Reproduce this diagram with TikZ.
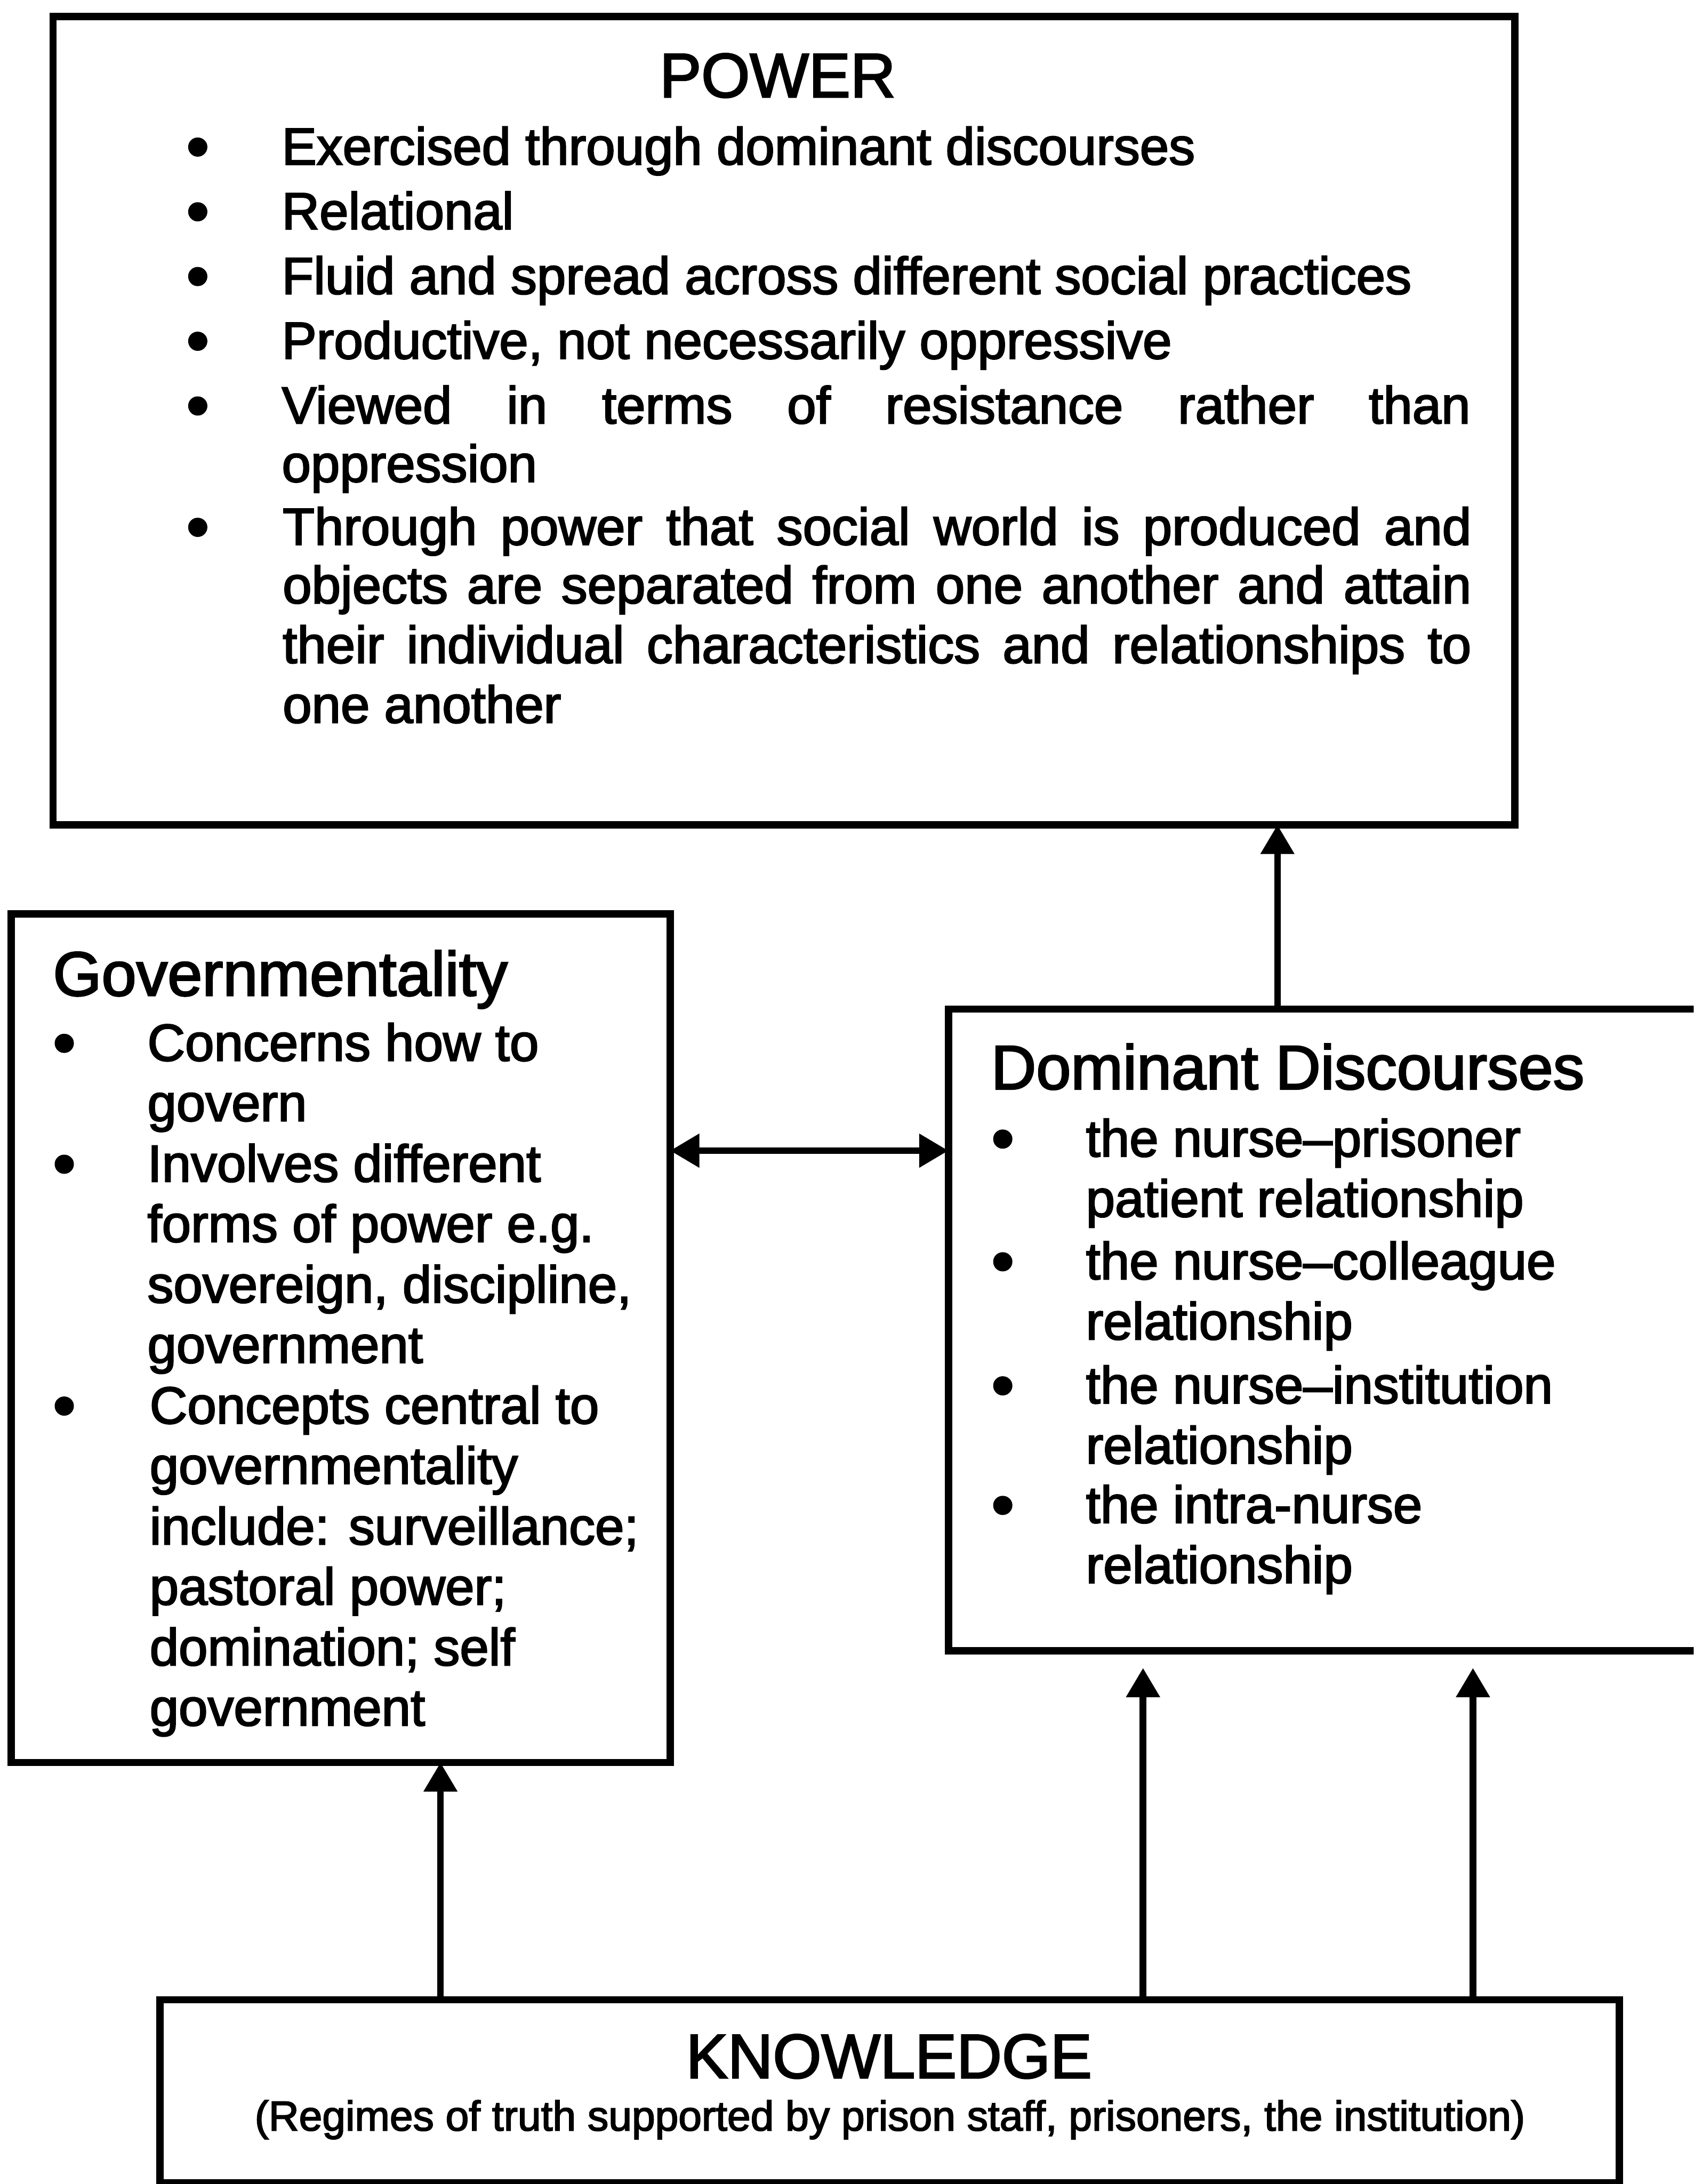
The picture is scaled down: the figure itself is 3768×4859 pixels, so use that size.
\documentclass[tikz,border=0pt]{standalone}
\usepackage{fontspec}
\setmainfont{Liberation Sans}[FakeBold=2.5]
\usetikzlibrary{arrows.meta}

\tikzset{
  box/.style={draw=black, line width=4.6pt, rectangle, inner sep=0pt, outer sep=0pt, anchor=north west},
  txt/.style={inner sep=0pt, outer sep=0pt, anchor=base west, font=\fontsize{33pt}{37pt}\selectfont},
  bul/.style={inner sep=0pt, outer sep=0pt, anchor=base, yshift=-0.09cm, font=\fontsize{41pt}{45pt}\selectfont},
  headtxt/.style={inner sep=0pt, outer sep=0pt, anchor=base west, font=\fontsize{39.5pt}{44pt}\selectfont},
  subtxt/.style={inner sep=0pt, outer sep=0pt, anchor=base, font=\fontsize{26.5pt}{30pt}\selectfont},
  arr/.style={line width=4.2pt, -{Triangle[length=0.65cm,width=0.72cm]}},
  dblarr/.style={line width=4.2pt, {Triangle[length=0.65cm,width=0.72cm]}-{Triangle[length=0.65cm,width=0.72cm]}},
}

\newcommand{\jline}[1]{\makebox[26.43cm][s]{#1}}

\begin{document}
\begin{tikzpicture}[x=0.01cm, y=-0.01cm]
  \clip (0,0) rectangle (3768,4859);
  \fill[white] (0,0) rectangle (3768,4859);

  % boxes
  \node[box, minimum width=32.50cm, minimum height=17.97cm] (power) at (118,37) {};
  \node[box, minimum width=14.65cm, minimum height=18.87cm] (gov) at (25,2033) {};
  \node[box, minimum width=16.90cm, minimum height=14.27cm] (dd) at (2110,2245) {};
  \node[box, minimum width=32.45cm, minimum height=4.07cm] (kn) at (356,4449) {};

  % POWER
  \node[headtxt, anchor=base] (powtitle) at (1730,216) {POWER};
  \node[bul] (pb1) at (440,366) {•};
  \node[txt] (p1) at (627,366) {Exercised through dominant discourses};
  \node[bul] (pb2) at (440,510) {•};
  \node[txt] (p2) at (627,510) {Relational};
  \node[bul] (pb3) at (440,654) {•};
  \node[txt] (p3) at (627,654) {Fluid and spread across different social practices};
  \node[bul] (pb4) at (440,798) {•};
  \node[txt] (p4) at (627,798) {Productive, not necessarily oppressive};
  \node[bul] (pb5) at (440,942) {•};
  \node[txt] (p5) at (627,942) {\jline{Viewed in terms of resistance rather than}};
  \node[txt] (p6) at (627,1072) {oppression};
  \node[bul] (pb6) at (440,1212) {•};
  \node[txt] (p7) at (629,1212) {\jline{Through power that social world is produced and}};
  \node[txt] (p8) at (629,1342) {\jline{objects are separated from one another and attain}};
  \node[txt] (p9) at (629,1475) {\jline{their individual characteristics and relationships to}};
  \node[txt] (p10) at (629,1608) {one another};

  % Governmentality
  \node[headtxt] (govtitle) at (118,2215) {Governmentality};
  \node[bul] (gb1) at (143,2360) {•};
  \node[txt] (g1) at (328,2360) {Concerns how to};
  \node[txt] (g2) at (328,2494) {govern};
  \node[bul] (gb2) at (143,2629) {•};
  \node[txt] (g3) at (328,2629) {Involves different};
  \node[txt] (g4) at (328,2763) {forms of power e.g.};
  \node[txt] (g5) at (328,2898) {sovereign, discipline,};
  \node[txt] (g6) at (328,3032) {government};
  \node[bul] (gb3) at (143,3167) {•};
  \node[txt] (g7) at (333,3167) {Concepts central to};
  \node[txt] (g8) at (333,3301) {governmentality};
  \node[txt] (g9) at (333,3436) {include: surveillance;};
  \node[txt] (g10) at (333,3570) {pastoral power;};
  \node[txt] (g11) at (333,3705) {domination; self};
  \node[txt] (g12) at (333,3839) {government};

  % Dominant Discourses
  \node[headtxt] (ddtitle) at (2205,2423) {Dominant Discourses};
  \node[bul] (db1) at (2231,2573) {•};
  \node[txt] (d1) at (2416,2573) {the nurse–prisoner};
  \node[txt] (d2) at (2416,2707) {patient relationship};
  \node[bul] (db2) at (2231,2846) {•};
  \node[txt] (d3) at (2416,2846) {the nurse–colleague};
  \node[txt] (d4) at (2416,2980) {relationship};
  \node[bul] (db3) at (2231,3122) {•};
  \node[txt] (d5) at (2416,3122) {the nurse–institution};
  \node[txt] (d6) at (2416,3256) {relationship};
  \node[bul] (db4) at (2231,3388) {•};
  \node[txt] (d7) at (2416,3388) {the intra-nurse};
  \node[txt] (d8) at (2416,3522) {relationship};

  % KNOWLEDGE
  \node[headtxt, anchor=base] (kntitle) at (1978,4623) {KNOWLEDGE};
  \node[subtxt] (knsub) at (1980,4740) {(Regimes of truth supported by prison staff, prisoners, the institution)};

  % connector positions
  \coordinate (xpow) at (2842,0);
  \coordinate (xgov) at (980,0);
  \coordinate (xdd1) at (2543,0);
  \coordinate (xdd2) at (3277,0);
  \coordinate (ymid) at (0,2560);

  % connectors
  \draw[arr] (dd.north -| xpow) -- (power.south -| xpow);
  \draw[dblarr] (gov.east |- ymid) -- (dd.west |- ymid);
  \draw[arr] (kn.north -| xgov) -- (gov.south -| xgov);
  \draw[arr, shorten >=0.38cm] (kn.north -| xdd1) -- (dd.south -| xdd1);
  \draw[arr, shorten >=0.38cm] (kn.north -| xdd2) -- (dd.south -| xdd2);
\end{tikzpicture}
\end{document}
